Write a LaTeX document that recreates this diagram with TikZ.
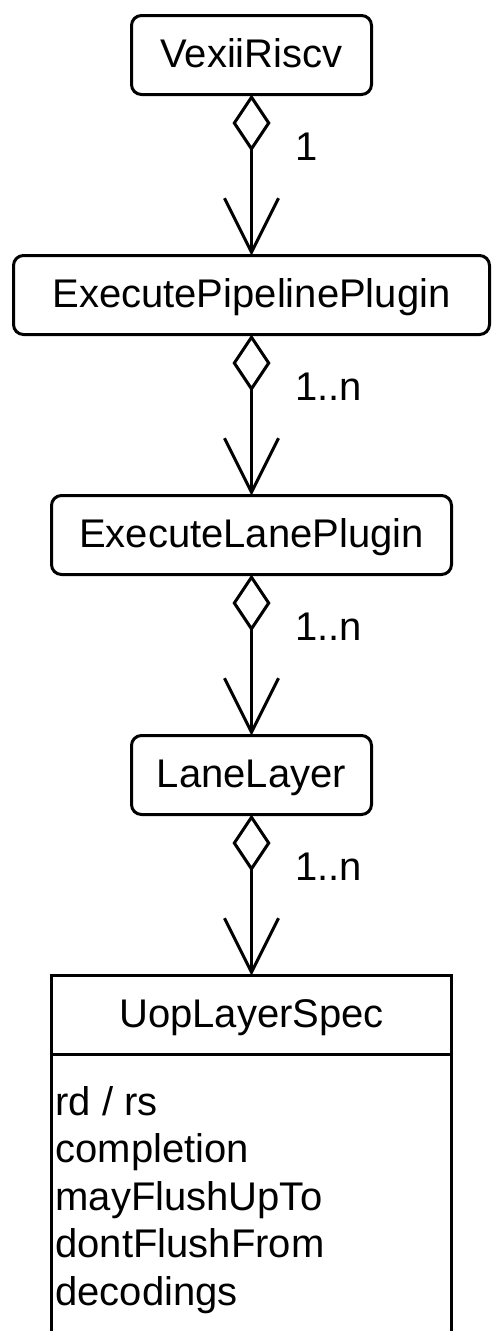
\documentclass[tikz,border=0pt]{standalone}
\usepackage{fontspec}
\setmainfont{Liberation Sans}
\usetikzlibrary{positioning,arrows.meta}

\begin{document}
\begin{tikzpicture}[x=1pt,y=1pt,node distance=161pt,
	every node/.style={font=\fontsize{40}{47.5}\selectfont,inner sep=0pt,outer sep=0pt},
	cls/.style={draw,line width=3pt,rounded corners=10pt,minimum height=79pt,text height=27pt,text depth=2pt},
	spec/.style={cls,sharp corners},
	agg/.style={line width=3pt,{Diamond[open,length=57pt,width=38pt]}-{Straight Barb[length=54pt,width=54pt]}},
	mult/.style={anchor=base west,pos=0.41,xshift=44pt},]
	\useasboundingbox (0,0) rectangle (491,-1331);
	% create the nodes
	\node (vex) [cls,minimum width=240pt] at (251.5,-55) {VexiiRiscv};
	\node (epp) [cls,minimum width=476pt,below =of vex] {ExecutePipelinePlugin};
	\node (elp) [cls,minimum width=400pt,below =of epp] {ExecuteLanePlugin};
	\node (ll) [cls,minimum width=240pt,below =of elp] {LaneLayer};
	\node (uop) [spec,minimum width=400pt,below =of ll] {UopLayerSpec};
	\node (uopbody) [draw,line width=3pt,minimum width=400pt,minimum height=320pt,anchor=north] at (uop.south) {};
	\node (attrs) [anchor=north west,align=left] at ([xshift=4pt,yshift=-31.5pt]uopbody.north west) {rd / rs\\completion\\mayFlushUpTo\\dontFlushFrom\\decodings};
	
	% connect the nodes
	\draw[agg] (vex) -- node[mult] (m1) {1} (epp);
	\draw[agg] (epp) -- node[mult] (m2) {1..n} (elp);
	\draw[agg] (elp) -- node[mult] (m3) {1..n} (ll);
	\draw[agg] (ll) -- node[mult] (m4) {1..n} (uop);
\end{tikzpicture}
\end{document}
